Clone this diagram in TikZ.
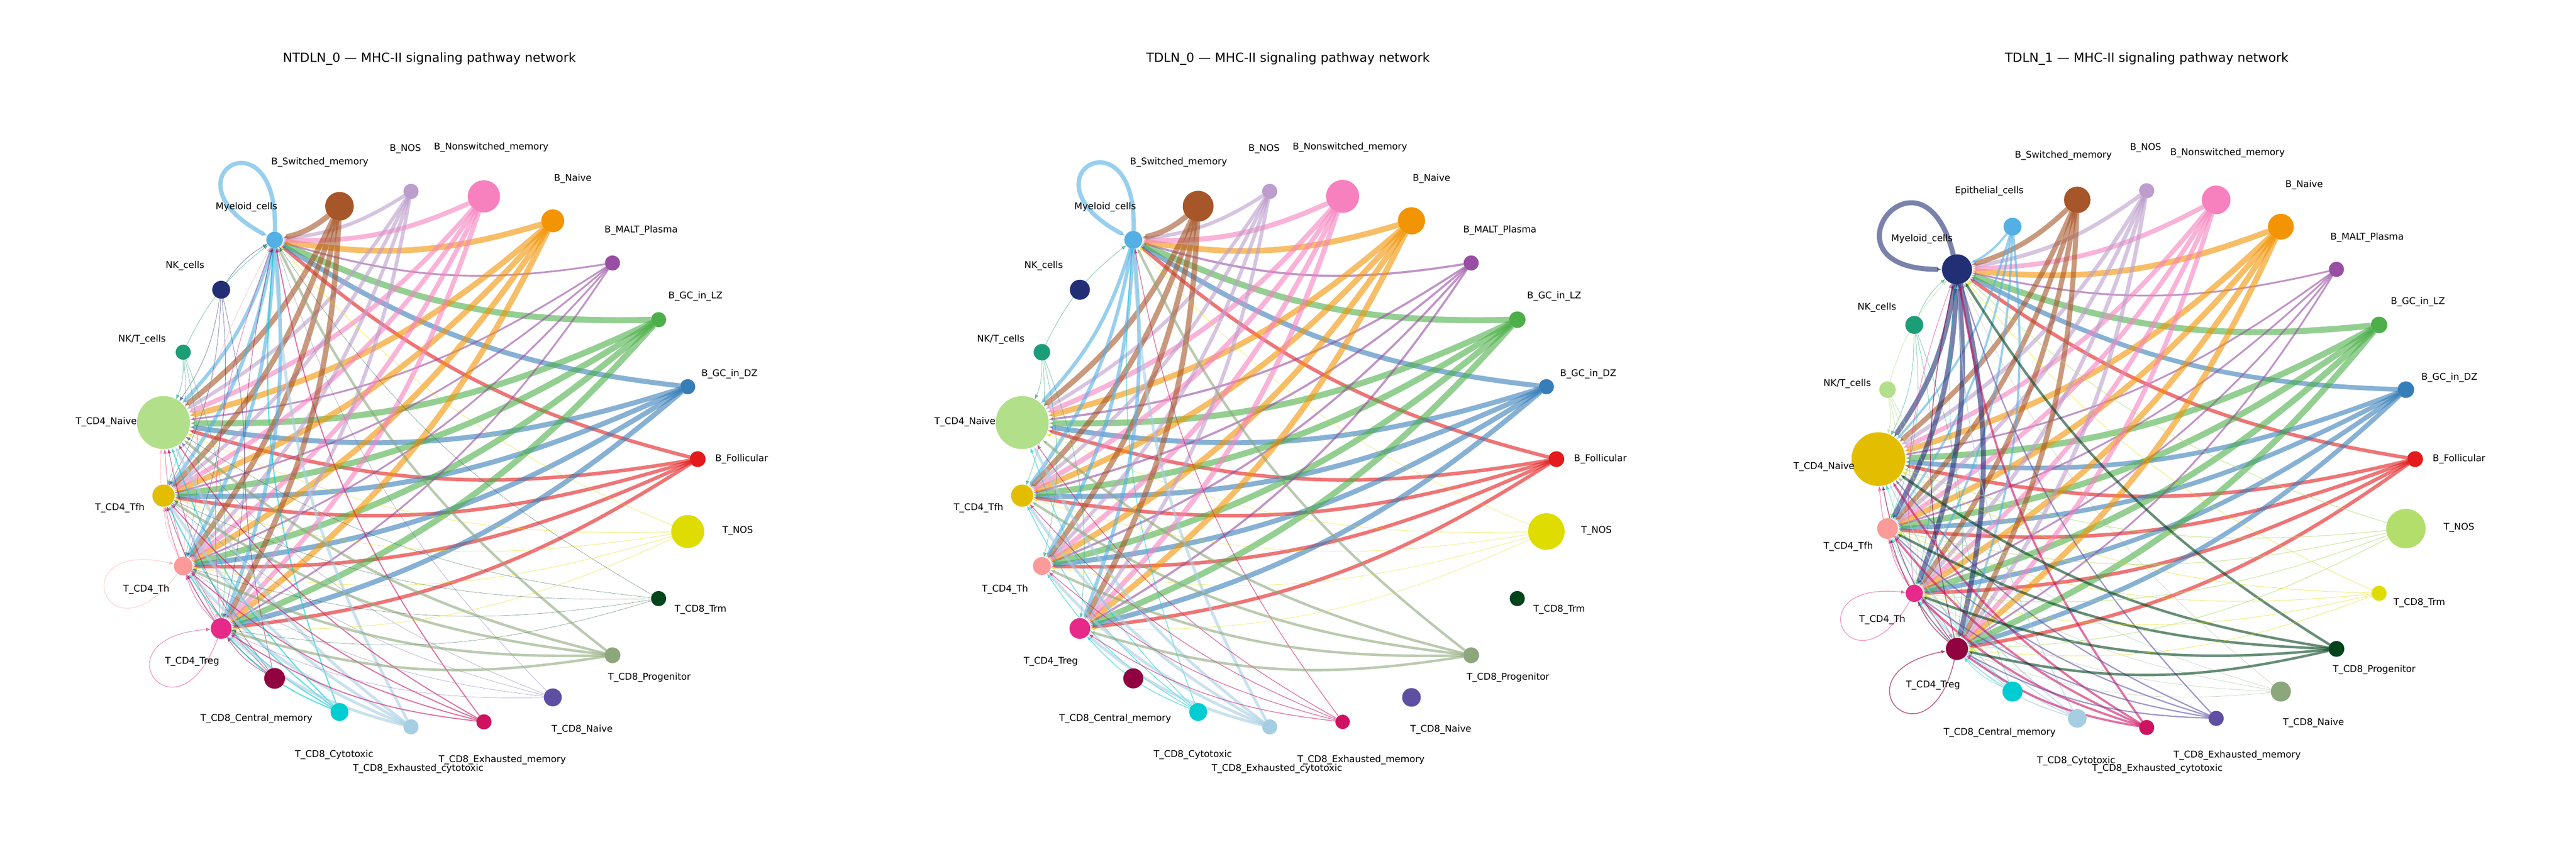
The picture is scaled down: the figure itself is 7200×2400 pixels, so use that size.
\documentclass[tikz,border=0pt]{standalone}
\usepackage{fontspec}
\setmainfont{DejaVu Sans}
\usetikzlibrary{arrows.meta}
\pgfdeclarelayer{edges}
\pgfdeclarelayer{paper}
\pgfsetlayers{paper,edges,main}
\definecolor{c0}{HTML}{E41A1C}
\definecolor{c1}{HTML}{377EB8}
\definecolor{c2}{HTML}{4DAF4A}
\definecolor{c3}{HTML}{984EA3}
\definecolor{c4}{HTML}{F29403}
\definecolor{c5}{HTML}{F781BF}
\definecolor{c6}{HTML}{BC9DCC}
\definecolor{c7}{HTML}{A65628}
\definecolor{c8}{HTML}{54B0E4}
\definecolor{c9}{HTML}{222F75}
\definecolor{c10}{HTML}{1B9E77}
\definecolor{c11}{HTML}{B2DF8A}
\definecolor{c12}{HTML}{E3BE00}
\definecolor{c13}{HTML}{FB9A99}
\definecolor{c14}{HTML}{E7298A}
\definecolor{c15}{HTML}{910241}
\definecolor{c16}{HTML}{00CDD1}
\definecolor{c17}{HTML}{A6CEE3}
\definecolor{c18}{HTML}{CE1261}
\definecolor{c19}{HTML}{5E4FA2}
\definecolor{c20}{HTML}{8CA77B}
\definecolor{c21}{HTML}{00441B}
\definecolor{c22}{HTML}{DEDC00}
\definecolor{c23}{HTML}{B3DE6C}
\tikzset{
  vtx/.style={circle, inner sep=0pt, outer sep=0pt, draw=none},
  lab/.style={font=\fontsize{7.4}{8.5}\selectfont, inner sep=0pt},
  ttl/.style={font=\fontsize{10}{12}\selectfont, inner sep=0pt, anchor=base},
  edge/.style={opacity=0.6, -{Latex[length=1.3mm,width=1.0mm]}},
}
\newcommand\mknodes[4]{%
  \foreach \vi/\vr in {#4} {%
    \pgfmathsetmacro\vang{\vi*360/#2}%
    \node[vtx, fill=c\vi, minimum size=\vr*0.2mm] (#1n\vi) at ({#3+750*cos(\vang)},{1283-750*sin(\vang)}) {};%
  }%
}
\newcommand\mkedges[3]{%
  \begin{pgfonlayer}{edges}%
  \foreach \es/\ew in {#3} {%
    \foreach \et in {#2} {%
      \ifnum\es=\et\relax\else
        \draw[edge, draw=c\es, line width=\ew*0.1mm] (#1n\es) to[bend left=13] (#1n\et);%
      \fi
    }%
  }%
  \end{pgfonlayer}%
}
% #1 node, #2 direction, #3 start offset, #4 end offset, #5 length, #6 colour, #7 width
\newcommand\selfloop[7]{%
  \pgfmathtruncatemacro\la{#2+#3}\pgfmathtruncatemacro\lb{#2+#4}%
  \begin{pgfonlayer}{edges}%
  \draw[edge, draw=#6, line width=#7*0.1mm] (#1.\la) .. controls +(\la:#5) and +(\lb:#5) .. (#1.\lb);%
  \end{pgfonlayer}%
}
\newcommand\mklabels[3]{%
  \foreach \li/\lx/\ly/\lt in {#3} {%
    \node[lab] (#1l\li) at ({\lx+#2},\ly) {\lt};%
  }%
}
\begin{document}
\begin{tikzpicture}[x=0.01cm, y=-0.01cm]
\begin{pgfonlayer}{paper}
\fill[white] (0,0) rectangle (7200,2400);
\end{pgfonlayer}
\useasboundingbox (0,0) rectangle (7200,2400);
% ---------- titles
\node[ttl] (t1) at (1200,173) {NTDLN\_0 — MHC-II signaling pathway network};
\node[ttl] (t2) at (3600,173) {TDLN\_0 — MHC-II signaling pathway network};
\node[ttl] (t3) at (6000,173) {TDLN\_1 — MHC-II signaling pathway network};
% ---------- panel 1
\mknodes{a}{23}{1200}{0/22,1/21,2/21,3/21,4/32,5/45,6/21,7/40,8/23,9/25,10/21,11/74,12/31,13/26,14/29,15/29,16/25,17/21,18/21,19/25,20/22,21/21,22/46}
\mkedges{a}{8,11,12,13,14}{0/10,1/14,2/17,3/5,4/16,5/13,6/10,7/15,8/10,9/1.2,10/1.2,13/1.2,14/1.5,15/1.5,16/3.5,17/8,18/3,19/0.8,20/7,21/0.8,22/1.2}
\selfloop{an8}{120}{-32}{32}{3.45cm}{c8}{12}
\selfloop{an13}{200}{33}{-33}{3.3cm}{c13}{1.2}
\selfloop{an14}{217}{33}{-33}{3.3cm}{c14}{1.5}
% ---------- panel 2
\mknodes{b}{23}{3600}{0/22,1/21,2/23,3/21,4/38,5/46,6/21,7/43,8/25,9/28,10/23,11/74,12/31,13/25,14/29,15/28,16/25,17/21,18/20,19/26,20/22,21/21,22/51}
\mkedges{b}{8,11,12,13,14}{0/10,1/14,2/17,3/6,4/16,5/14,6/10,7/15,8/10,10/1.2,16/2,17/8,18/2,20/7,22/1}
\selfloop{bn8}{120}{-32}{32}{3.45cm}{c8}{12}
% ---------- panel 3
\mknodes{c}{24}{6000}{0/22,1/23,2/23,3/21,4/36,5/40,6/21,7/37,8/25,9/42,10/25,11/23,12/75,13/29,14/24,15/31,16/28,17/26,18/21,19/21,20/28,21/22,22/21,23/55}
\mkedges{c}{9,12,13,14,15}{0/10,1/13,2/17,3/5,4/16,5/13,6/11,7/14,8/6,9/14,10/1.2,11/1.5,14/1.5,15/2.5,16/1.2,17/3,18/6,19/3.5,20/0.8,21/7,22/1.3,23/2}
\selfloop{cn9}{142}{-38}{38}{3.6cm}{c9}{14}
\selfloop{cn14}{207}{33}{-33}{3.2cm}{c14}{1.5}
\selfloop{cn15}{224}{33}{-33}{3.3cm}{c15}{2.5}
% ---------- labels
\mklabels{a}{0}{0/2073/1282/B\_Follicular,1/2039/1045/B\_GC\_in\_DZ,2/1944/827/B\_GC\_in\_LZ,3/1792/643/B\_MALT\_Plasma,4/1601/499/B\_Naive,5/1373/412/B\_Nonswitched\_memory,6/1133/416/B\_NOS,7/894/453/B\_Switched\_memory,8/689/578/Myeloid\_cells,9/517/742/NK\_cells,10/397/949/{NK/T\_cells},11/297/1179/T\_CD4\_Naive,12/335/1419/T\_CD4\_Tfh,13/409/1647/T\_CD4\_Th,14/537/1849/T\_CD4\_Treg,15/717/2009/T\_CD8\_Central\_memory,16/934/2109/T\_CD8\_Cytotoxic,17/1169/2148/T\_CD8\_Exhausted\_cytotoxic,18/1404/2123/T\_CD8\_Exhausted\_memory,19/1627/2039/T\_CD8\_Naive,20/1815/1893/T\_CD8\_Progenitor,21/1958/1704/T\_CD8\_Trm,22/2062/1483/T\_NOS}
\mklabels{b}{2400}{0/2073/1282/B\_Follicular,1/2039/1045/B\_GC\_in\_DZ,2/1944/827/B\_GC\_in\_LZ,3/1792/643/B\_MALT\_Plasma,4/1601/499/B\_Naive,5/1373/412/B\_Nonswitched\_memory,6/1133/416/B\_NOS,7/894/453/B\_Switched\_memory,8/689/578/Myeloid\_cells,9/517/742/NK\_cells,10/397/949/{NK/T\_cells},11/297/1179/T\_CD4\_Naive,12/335/1419/T\_CD4\_Tfh,13/409/1647/T\_CD4\_Th,14/537/1849/T\_CD4\_Treg,15/717/2009/T\_CD8\_Central\_memory,16/934/2109/T\_CD8\_Cytotoxic,17/1169/2148/T\_CD8\_Exhausted\_cytotoxic,18/1404/2123/T\_CD8\_Exhausted\_memory,19/1627/2039/T\_CD8\_Naive,20/1815/1893/T\_CD8\_Progenitor,21/1958/1704/T\_CD8\_Trm,22/2062/1483/T\_NOS}
\mklabels{c}{0}{0/6873/1282/B\_Follicular,1/6846/1055/B\_GC\_in\_DZ,2/6758/844/B\_GC\_in\_LZ,3/6616/664/B\_MALT\_Plasma,4/6440/517/B\_Naive,5/6226/428/B\_Nonswitched\_memory,6/5997/413/B\_NOS,7/5767/435/B\_Switched\_memory,8/5560/534/Epithelial\_cells,9/5372/668/Myeloid\_cells,10/5246/859/NK\_cells,11/5163/1072/{NK/T\_cells},12/5098/1304/T\_CD4\_Naive,13/5166/1527/T\_CD4\_Tfh,14/5261/1732/T\_CD4\_Th,15/5403/1915/T\_CD4\_Treg,16/5589/2048/T\_CD8\_Central\_memory,17/5803/2127/T\_CD8\_Cytotoxic,18/6030/2148/T\_CD8\_Exhausted\_cytotoxic,19/6253/2110/T\_CD8\_Exhausted\_memory,20/6466/2020/T\_CD8\_Naive,21/6636/1872/T\_CD8\_Progenitor,22/6762/1684/T\_CD8\_Trm,23/6873/1474/T\_NOS}
\end{tikzpicture}
\end{document}
